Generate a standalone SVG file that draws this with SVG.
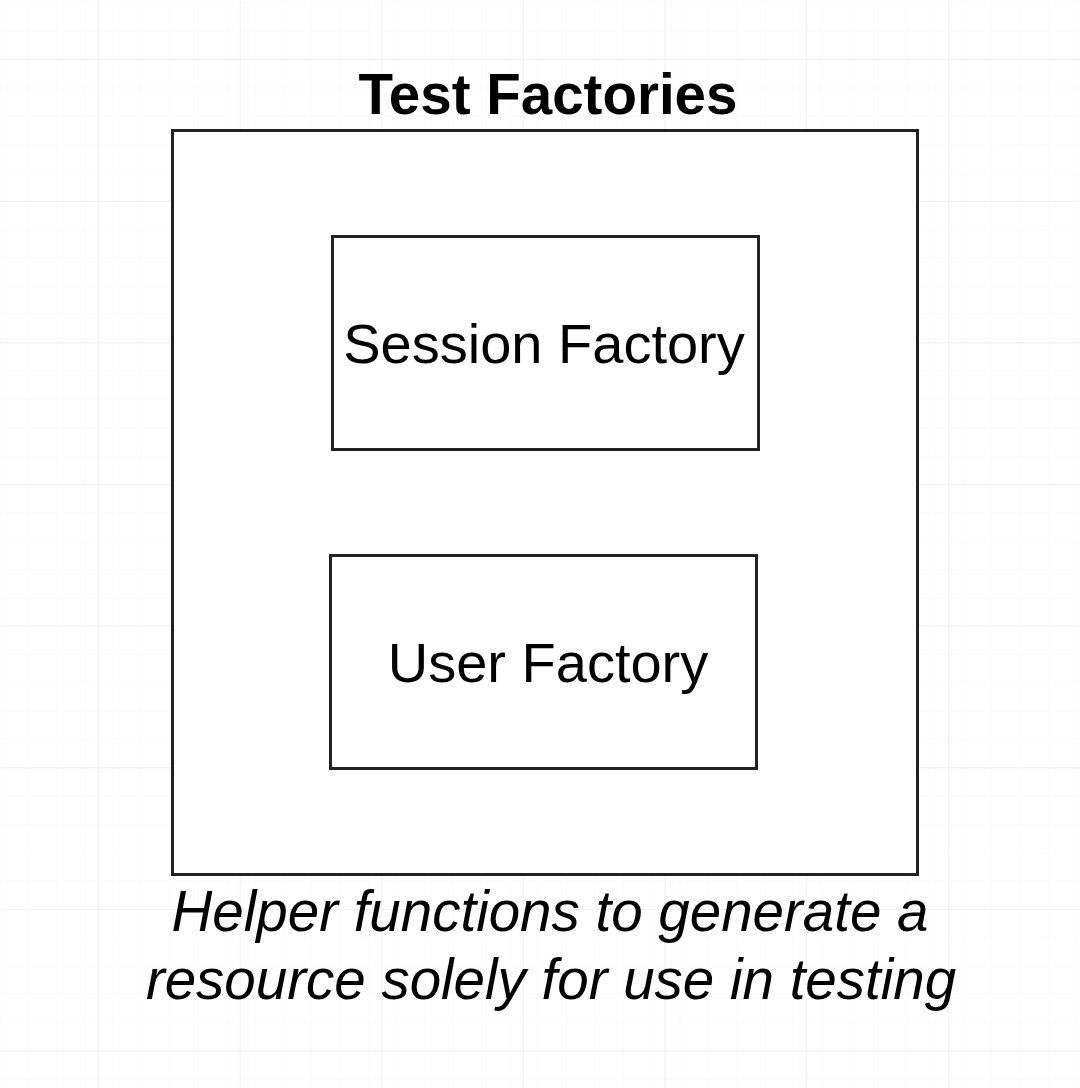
<svg xmlns="http://www.w3.org/2000/svg" width="1080" height="1088" viewBox="0 0 1080 1088">
<defs>
<pattern id="minor" x="-0.5" y="2.5" width="28.33" height="28.33" patternUnits="userSpaceOnUse">
<path d="M0 0 H28.33 M0 0 V28.33" fill="none" stroke="#f8f8fa" stroke-width="1"/>
</pattern>
<pattern id="major" x="-43.6" y="-82.6" width="141.65" height="141.65" patternUnits="userSpaceOnUse">
<path d="M0 0 H141.65 M0 0 V141.65" fill="none" stroke="#ebebee" stroke-width="1.5"/>
</pattern>
</defs>
<style>
.box{fill:#ffffff;stroke:#222222;stroke-width:3}
.lbl{font-family:"Liberation Sans",Arial,sans-serif;font-size:56px;fill:#000;text-anchor:middle}
.title{font-weight:bold;font-size:56.5px}
.note{font-style:italic;font-size:56.5px}
</style>
<rect width="1080" height="1088" fill="#ffffff"/>
<rect width="1080" height="1088" fill="url(#minor)"/>
<rect width="1080" height="1088" fill="url(#major)"/>
<g id="connectors"/>
<g id="test-factories">
<rect class="box" x="172.5" y="130.5" width="745" height="744"/>
<text class="lbl title" x="548" y="114">Test Factories</text>
</g>
<g id="session-factory">
<rect class="box" x="332.5" y="236.5" width="426" height="213"/>
<text class="lbl" x="544" y="363">Session Factory</text>
</g>
<g id="user-factory">
<rect class="box" x="330.5" y="555.5" width="426" height="213"/>
<text class="lbl" x="548" y="682">User Factory</text>
</g>
<g id="note">
<text class="lbl note" x="550" y="931">Helper functions to generate a</text>
<text class="lbl note" x="551" y="999">resource solely for use in testing</text>
</g>
</svg>
